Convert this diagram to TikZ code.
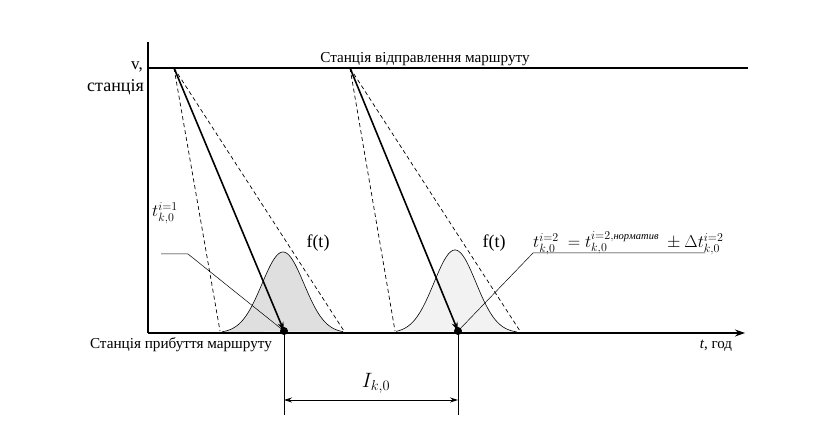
\documentclass[tikz,border=0pt]{standalone}
\usepackage{fontspec}
\setmainfont{Liberation Serif}
\usetikzlibrary{arrows.meta}
\begin{document}
\begin{tikzpicture}[x=1pt,y=-1pt,
  axis/.style={line width=1.1pt},
  route/.style={line width=1.6pt,-{Stealth[length=9pt,width=6pt]}},
  dashline/.style={dash pattern=on 4pt off 3pt,line width=0.7pt},
  pointer/.style={line width=0.5pt},
  lbl/.style={font=\fontsize{15.2}{17}\selectfont,inner sep=0pt},
  dot/.style={circle,fill=black,inner sep=0pt,minimum size=8pt}]
\useasboundingbox (0,0) rectangle (814,427);
% axes
\coordinate (ytop) at (148,42);
\coordinate (o) at (148,333);
\coordinate (xend) at (745,333);
\coordinate (dl) at (148,68);
\coordinate (dr) at (748,68);
% bell curves
\fill[gray!25] plot[domain=222:343,samples=80] (\x,{333-81*exp(-((\x-283)^2)/(2*21^2))}) -- cycle;
\draw[line width=0.6pt] plot[domain=222:343,samples=80] (\x,{333-81*exp(-((\x-283)^2)/(2*21^2))});
\fill[gray!10] plot[domain=396:517,samples=80] (\x,{333-83*exp(-((\x-455)^2)/(2*21^2))}) -- cycle;
\draw[line width=0.6pt] plot[domain=396:517,samples=80] (\x,{333-83*exp(-((\x-455)^2)/(2*21^2))});
\draw[axis] (ytop) -- (o);
\draw[axis,-{Stealth[length=10pt,width=7pt]}] (o) -- (xend);
\draw[line width=1.1pt] (dl) -- (dr);
% route 1
\coordinate (s1) at (174,68);
\node[dot] (a1) at (284,331) {};
\coordinate (l1) at (220,331);
\coordinate (r1) at (344,331);
\draw[dashline] (s1) -- (l1);
\draw[dashline] (s1) -- (r1);
\draw[route] (s1) -- (a1.center);
% route 2
\coordinate (s2) at (350,68);
\node[dot] (a2) at (458,331) {};
\coordinate (l2) at (395,331);
\coordinate (r2) at (520,331);
\draw[dashline] (s2) -- (l2);
\draw[dashline] (s2) -- (r2);
\draw[route] (s2) -- (a2.center);
% pointers
\coordinate (p1a) at (161,254);
\coordinate (p1b) at (188,254);
\draw[pointer] (p1a) -- (p1b) -- (a1.center);
\coordinate (p2a) at (705,253);
\coordinate (p2b) at (533,253);
\draw[pointer] (p2a) -- (p2b) -- (a2.center);
% interval
\coordinate (v1) at (284,415);
\coordinate (v2) at (458,415);
\draw[line width=0.8pt] (a1.center) -- (v1);
\draw[line width=0.8pt] (a2.center) -- (v2);
\coordinate (i1) at (284,400);
\coordinate (i2) at (458,400);
\draw[line width=0.8pt,{Stealth[length=8pt,width=5pt]}-{Stealth[length=8pt,width=5pt]}] (i1) -- (i2);
% labels
\node[lbl] (top) at (425,59) {Станція відправлення маршруту};
\node[lbl] (bot) at (181,345) {Станція прибуття маршруту};
\node[lbl,anchor=east,font=\fontsize{17}{19}\selectfont] (v) at (143,67) {v,};
\node[lbl,anchor=east,font=\fontsize{18}{20}\selectfont] (st) at (144,87) {станція};
\node[lbl,font=\fontsize{15}{17}\selectfont] (tt) at (716,346) {\textit{t}, год};
\node[lbl,font=\fontsize{18}{20}\selectfont] (f1) at (318,243) {f(t)};
\node[lbl,font=\fontsize{18}{20}\selectfont] (f2) at (494,243) {f(t)};
\node[lbl,font=\fontsize{17}{19}\selectfont] (t1) at (165,213) {$t_{k,0}^{i=1}$};
\node[lbl,font=\fontsize{20}{22}\selectfont] (ik) at (376,383) {$I_{k,0}$};
\node[lbl,anchor=west,font=\fontsize{17}{19}\selectfont] (frm) at (533,243) {$t_{k,0}^{i=2}\ =t_{k,0}^{i=2,\mbox{\fontsize{10.5}{12}\selectfont\itshape нopматив}}\ \pm\Delta t_{k,0}^{i=2}$};
\end{tikzpicture}
\end{document}
